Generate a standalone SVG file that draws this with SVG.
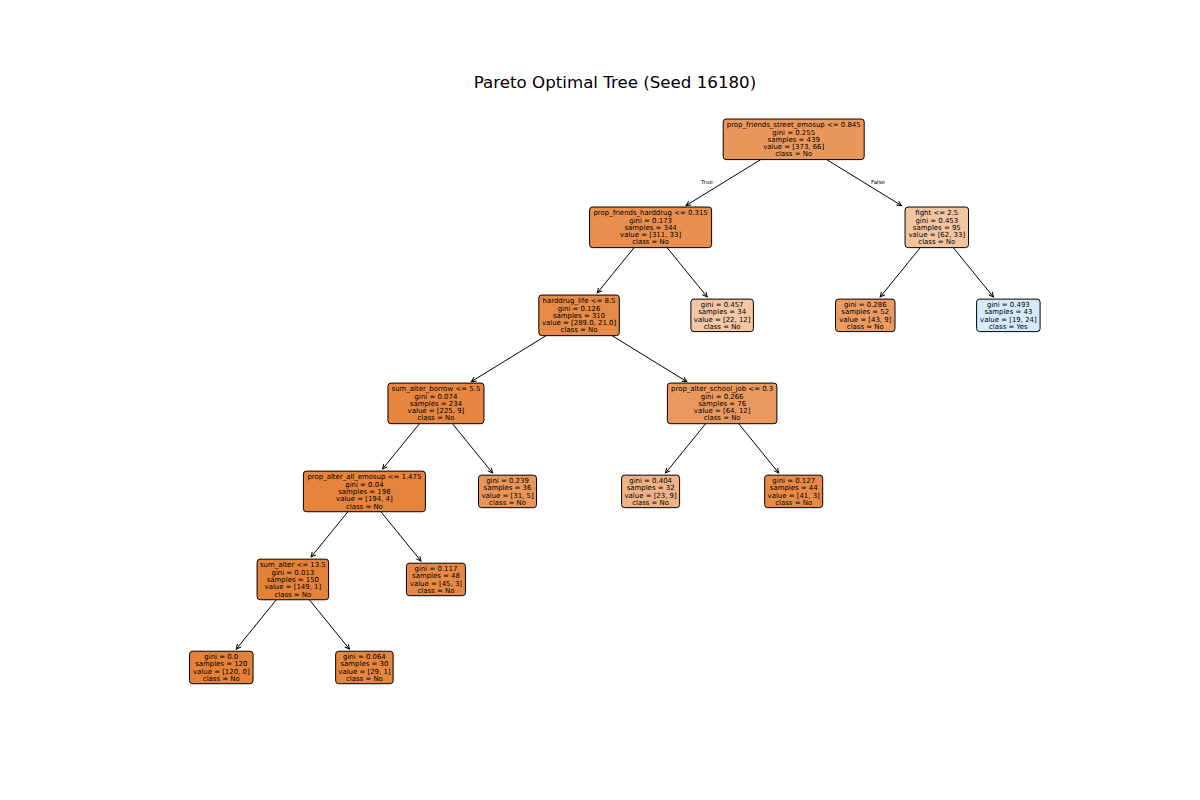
<svg xmlns="http://www.w3.org/2000/svg" width="1200" height="800" viewBox="0 0 1200 800">
<style>
.box{stroke:#000;stroke-width:1;}
.int{}
.t{font-family:"DejaVu Sans",sans-serif;font-size:6.95px;fill:#000;text-anchor:middle;}
.lbl{font-family:"DejaVu Sans",sans-serif;font-size:5.6px;fill:#000;text-anchor:middle;}
.title{font-family:"DejaVu Sans",sans-serif;font-size:16.67px;fill:#000;text-anchor:middle;}
.edge{stroke:#000;stroke-width:1;fill:none;marker-end:url(#ah);}
</style>
<defs>
<marker id="ah" viewBox="-6 -4 8 8" refX="0" refY="0" markerWidth="8" markerHeight="8" markerUnits="userSpaceOnUse" orient="auto">
<path d="M-4.6,-2.3 L0,0 L-4.6,2.3" fill="none" stroke="#000" stroke-width="1"/>
</marker>
</defs>
<rect width="1200" height="800" fill="#fff"/>
<text class="title" x="615" y="87.5">Pareto Optimal Tree (Seed 16180)</text>
<g id="connectors">
<line class="edge" x1="760.70" y1="159.60" x2="685.98" y2="205.56"/>
<line class="edge" x1="826.70" y1="159.60" x2="901.42" y2="205.56"/>
<line class="edge" x1="634.10" y1="247.63" x2="597.32" y2="292.89"/>
<line class="edge" x1="667.10" y1="247.63" x2="707.17" y2="296.94"/>
<line class="edge" x1="920.30" y1="247.63" x2="880.23" y2="296.94"/>
<line class="edge" x1="953.30" y1="247.63" x2="993.37" y2="296.94"/>
<line class="edge" x1="546.05" y1="335.66" x2="471.34" y2="381.62"/>
<line class="edge" x1="612.05" y1="335.66" x2="686.77" y2="381.62"/>
<line class="edge" x1="419.45" y1="423.69" x2="382.67" y2="468.95"/>
<line class="edge" x1="452.45" y1="423.69" x2="492.52" y2="473.00"/>
<line class="edge" x1="705.65" y1="423.69" x2="665.58" y2="473.00"/>
<line class="edge" x1="738.65" y1="423.69" x2="778.72" y2="473.00"/>
<line class="edge" x1="347.90" y1="511.72" x2="311.12" y2="556.98"/>
<line class="edge" x1="380.90" y1="511.72" x2="420.97" y2="561.03"/>
<line class="edge" x1="276.35" y1="599.75" x2="236.28" y2="649.06"/>
<line class="edge" x1="309.35" y1="599.75" x2="349.42" y2="649.06"/>
<text class="lbl" x="707" y="184">True</text>
<text class="lbl" x="878" y="184">False</text>
</g>
<g id="n0" transform="translate(793.7,139.3)">
<rect class="box" x="-70.5" y="-20.3" width="141" height="40.6" rx="3" fill="#ea975c"/>
<text class="t"><tspan x="0" y="-12.1">prop_friends_street_emosup &lt;= 0.845</tspan><tspan x="0" y="-4.8">gini = 0.255</tspan><tspan x="0" y="2.5">samples = 439</tspan><tspan x="0" y="9.8">value = [373, 66]</tspan><tspan x="0" y="17.1">class = No</tspan></text>
</g>
<g id="n1" transform="translate(650.6,227.33)">
<rect class="box" x="-61" y="-20.3" width="122" height="40.6" rx="3" fill="#e88e4e"/>
<text class="t"><tspan x="0" y="-12.1">prop_friends_harddrug &lt;= 0.315</tspan><tspan x="0" y="-4.8">gini = 0.173</tspan><tspan x="0" y="2.5">samples = 344</tspan><tspan x="0" y="9.8">value = [311, 33]</tspan><tspan x="0" y="17.1">class = No</tspan></text>
</g>
<g id="n2" transform="translate(936.8,227.33)">
<rect class="box" x="-31.75" y="-20.3" width="63.5" height="40.6" rx="3" fill="#f3c4a2"/>
<text class="t"><tspan x="0" y="-12.1">fight &lt;= 2.5</tspan><tspan x="0" y="-4.8">gini = 0.453</tspan><tspan x="0" y="2.5">samples = 95</tspan><tspan x="0" y="9.8">value = [62, 33]</tspan><tspan x="0" y="17.1">class = No</tspan></text>
</g>
<g id="n3" transform="translate(579.05,315.36)">
<rect class="box" x="-40.25" y="-20.3" width="80.5" height="40.6" rx="3" fill="#e78a47"/>
<text class="t"><tspan x="0" y="-12.1">harddrug_life &lt;= 8.5</tspan><tspan x="0" y="-4.8">gini = 0.126</tspan><tspan x="0" y="2.5">samples = 310</tspan><tspan x="0" y="9.8">value = [289.0, 21.0]</tspan><tspan x="0" y="17.1">class = No</tspan></text>
</g>
<g id="n4" transform="translate(722.15,315.36)">
<rect class="box" x="-31.25" y="-16.25" width="62.5" height="32.5" rx="3" fill="#f3c6a5"/>
<text class="t"><tspan x="0" y="-8.45">gini = 0.457</tspan><tspan x="0" y="-1.15">samples = 34</tspan><tspan x="0" y="6.15">value = [22, 12]</tspan><tspan x="0" y="13.45">class = No</tspan></text>
</g>
<g id="n5" transform="translate(865.25,315.36)">
<rect class="box" x="-29.75" y="-16.25" width="59.5" height="32.5" rx="3" fill="#ea9b62"/>
<text class="t"><tspan x="0" y="-8.45">gini = 0.286</tspan><tspan x="0" y="-1.15">samples = 52</tspan><tspan x="0" y="6.15">value = [43, 9]</tspan><tspan x="0" y="13.45">class = No</tspan></text>
</g>
<g id="n6" transform="translate(1008.35,315.36)">
<rect class="box" x="-31.75" y="-16.25" width="63.5" height="32.5" rx="3" fill="#d6ebfa"/>
<text class="t"><tspan x="0" y="-8.45">gini = 0.493</tspan><tspan x="0" y="-1.15">samples = 43</tspan><tspan x="0" y="6.15">value = [19, 24]</tspan><tspan x="0" y="13.45">class = Yes</tspan></text>
</g>
<g id="n7" transform="translate(435.95,403.39)">
<rect class="box" x="-48" y="-20.3" width="96" height="40.6" rx="3" fill="#e68641"/>
<text class="t"><tspan x="0" y="-12.1">sum_alter_borrow &lt;= 5.5</tspan><tspan x="0" y="-4.8">gini = 0.074</tspan><tspan x="0" y="2.5">samples = 234</tspan><tspan x="0" y="9.8">value = [225, 9]</tspan><tspan x="0" y="17.1">class = No</tspan></text>
</g>
<g id="n8" transform="translate(722.15,403.39)">
<rect class="box" x="-54.75" y="-20.3" width="109.5" height="40.6" rx="3" fill="#ea995e"/>
<text class="t"><tspan x="0" y="-12.1">prop_alter_school_job &lt;= 0.3</tspan><tspan x="0" y="-4.8">gini = 0.266</tspan><tspan x="0" y="2.5">samples = 76</tspan><tspan x="0" y="9.8">value = [64, 12]</tspan><tspan x="0" y="17.1">class = No</tspan></text>
</g>
<g id="n9" transform="translate(364.4,491.42)">
<rect class="box" x="-61" y="-20.3" width="122" height="40.6" rx="3" fill="#e6843d"/>
<text class="t"><tspan x="0" y="-12.1">prop_alter_all_emosup &lt;= 1.475</tspan><tspan x="0" y="-4.8">gini = 0.04</tspan><tspan x="0" y="2.5">samples = 198</tspan><tspan x="0" y="9.8">value = [194, 4]</tspan><tspan x="0" y="17.1">class = No</tspan></text>
</g>
<g id="n10" transform="translate(507.5,491.42)">
<rect class="box" x="-29" y="-16.25" width="58" height="32.5" rx="3" fill="#e99559"/>
<text class="t"><tspan x="0" y="-8.45">gini = 0.239</tspan><tspan x="0" y="-1.15">samples = 36</tspan><tspan x="0" y="6.15">value = [31, 5]</tspan><tspan x="0" y="13.45">class = No</tspan></text>
</g>
<g id="n11" transform="translate(650.6,491.42)">
<rect class="box" x="-29" y="-16.25" width="58" height="32.5" rx="3" fill="#efb286"/>
<text class="t"><tspan x="0" y="-8.45">gini = 0.404</tspan><tspan x="0" y="-1.15">samples = 32</tspan><tspan x="0" y="6.15">value = [23, 9]</tspan><tspan x="0" y="13.45">class = No</tspan></text>
</g>
<g id="n12" transform="translate(793.7,491.42)">
<rect class="box" x="-29" y="-16.25" width="58" height="32.5" rx="3" fill="#e78a47"/>
<text class="t"><tspan x="0" y="-8.45">gini = 0.127</tspan><tspan x="0" y="-1.15">samples = 44</tspan><tspan x="0" y="6.15">value = [41, 3]</tspan><tspan x="0" y="13.45">class = No</tspan></text>
</g>
<g id="n13" transform="translate(292.85,579.45)">
<rect class="box" x="-35.75" y="-20.3" width="71.5" height="40.6" rx="3" fill="#e5823a"/>
<text class="t"><tspan x="0" y="-12.1">sum_alter &lt;= 13.5</tspan><tspan x="0" y="-4.8">gini = 0.013</tspan><tspan x="0" y="2.5">samples = 150</tspan><tspan x="0" y="9.8">value = [149, 1]</tspan><tspan x="0" y="17.1">class = No</tspan></text>
</g>
<g id="n14" transform="translate(435.95,579.45)">
<rect class="box" x="-29.5" y="-16.25" width="59" height="32.5" rx="3" fill="#e78946"/>
<text class="t"><tspan x="0" y="-8.45">gini = 0.117</tspan><tspan x="0" y="-1.15">samples = 48</tspan><tspan x="0" y="6.15">value = [45, 3]</tspan><tspan x="0" y="13.45">class = No</tspan></text>
</g>
<g id="n15" transform="translate(221.3,667.48)">
<rect class="box" x="-31.75" y="-16.25" width="63.5" height="32.5" rx="3" fill="#e58139"/>
<text class="t"><tspan x="0" y="-8.45">gini = 0.0</tspan><tspan x="0" y="-1.15">samples = 120</tspan><tspan x="0" y="6.15">value = [120, 0]</tspan><tspan x="0" y="13.45">class = No</tspan></text>
</g>
<g id="n16" transform="translate(364.4,667.48)">
<rect class="box" x="-28.75" y="-16.25" width="57.5" height="32.5" rx="3" fill="#e68540"/>
<text class="t"><tspan x="0" y="-8.45">gini = 0.064</tspan><tspan x="0" y="-1.15">samples = 30</tspan><tspan x="0" y="6.15">value = [29, 1]</tspan><tspan x="0" y="13.45">class = No</tspan></text>
</g>
</svg>
